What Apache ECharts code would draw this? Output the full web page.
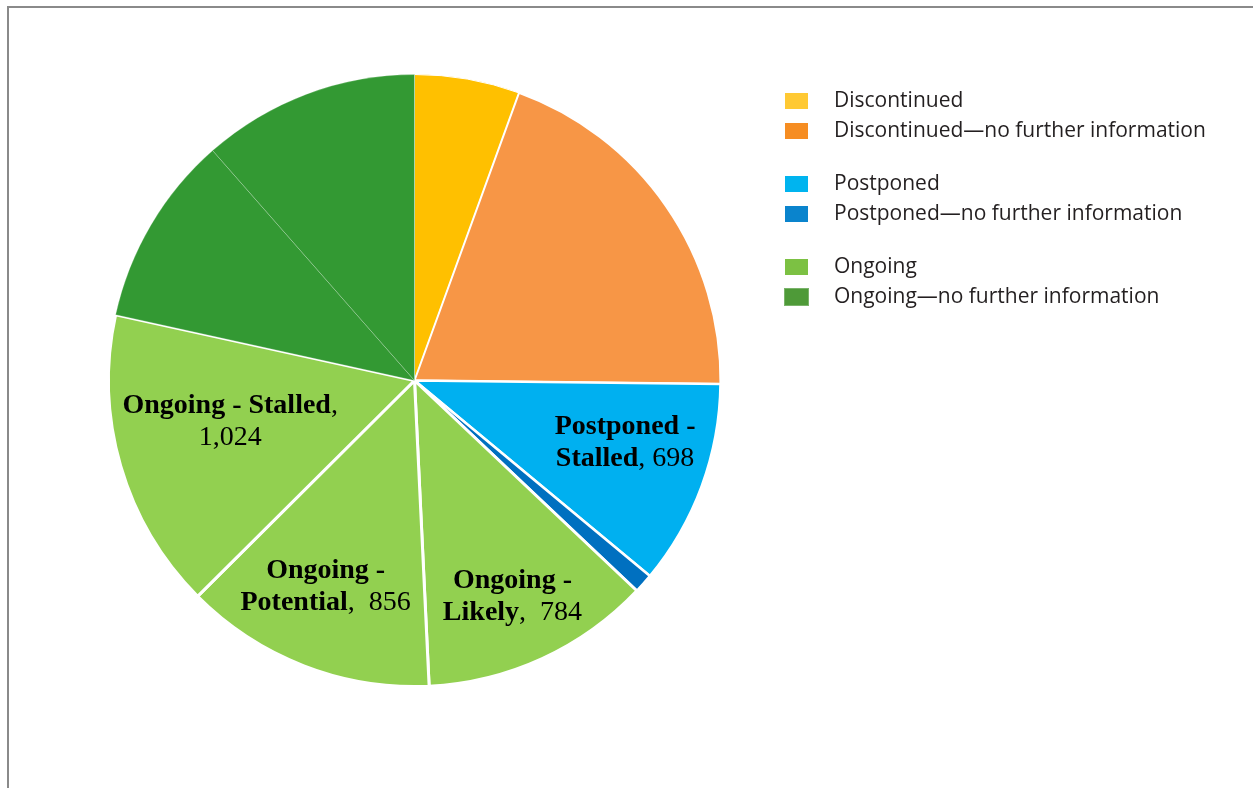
<!DOCTYPE html>
<html>
<head>
<meta charset="utf-8">
<script src="https://cdn.jsdelivr.net/npm/echarts@6/dist/echarts.min.js"></script>
<style>
html,body{margin:0;padding:0;background:#fff;}
#chart{width:1253px;height:788px;}
</style>
</head>
<body>
<div id="chart"></div>
<script>
// ---- data ----
const sliceGroups = ['Discontinued', 'Discontinued—no further information', 'Postponed', 'Postponed—no further information', 'Ongoing', 'Ongoing', 'Ongoing', 'Ongoing—no further information', 'Ongoing—no further information'];
const sliceLabels = ['', '', 'Postponed - Stalled', '', 'Ongoing - Likely', 'Ongoing - Potential', 'Ongoing - Stalled', '', ''];
const sliceValues = [357, 1264, 698, 66, 784, 856, 1024, 649, 738];
const legendGroup1 = ['Discontinued', 'Discontinued—no further information'];
const legendGroup2 = ['Postponed', 'Postponed—no further information'];
const legendGroup3 = ['Ongoing', 'Ongoing—no further information'];

// ---- styles ----
const sliceColors = ['#FFC000', '#F79646', '#00B0F0', '#0070C0', '#92D050', '#92D050', '#92D050', '#339933', '#339933'];
const sliceBorders = [
  {c:'#ffffff', w:1}, {c:'#ffffff', w:2}, {c:'#ffffff', w:2.5}, {c:'#ffffff', w:2.5},
  {c:'#ffffff', w:3}, {c:'#ffffff', w:3}, {c:'#ffffff', w:3},
  {c:'rgba(255,255,255,0.25)', w:0.8}, {c:'rgba(255,255,255,0.25)', w:0.8}
];
// label nudges (pixels) to mimic the original best-fit placement
const labelNudge = [[0,0],[0,0],[6,-13],[0,0],[7,18],[-10,3],[25,-20],[0,0],[0,0]];
const legendColors = {
  'Discontinued': '#FFC933',
  'Discontinued—no further information': '#F68D22',
  'Postponed': '#00B4EF',
  'Postponed—no further information': '#0A84CD',
  'Ongoing': '#7CC143',
  'Ongoing—no further information': '#4E9A38'
};

const chart = echarts.init(document.getElementById('chart'), null, {renderer: 'canvas'});

const mainData = sliceValues.map((v, i) => ({
  name: sliceGroups[i],
  value: v,
  itemStyle: {color: sliceColors[i], borderColor: sliceBorders[i].c, borderWidth: sliceBorders[i].w}
}));

const fmtNum = v => v.toLocaleString('en-US');

const labelData = sliceValues.map((v, i) => ({
  name: sliceGroups[i],
  value: v,
  label: {show: sliceLabels[i] !== ''}
}));

function labelFormatter(p) {
  const name = sliceLabels[p.dataIndex];
  const val = fmtNum(p.value);
  if (name === 'Ongoing - Stalled') {
    return '{b|' + name + '}{n|,}\n{n|' + val + '}';
  }
  const parts = name.split(' - ');
  const gap = name.indexOf('Ongoing') === 0 ? ',  ' : ', ';
  return '{b|' + parts[0] + ' -}\n{b|' + parts[1] + '}{n|' + gap + val + '}';
}

function makeLegend(items, top) {
  return {
    orient: 'vertical',
    left: 778,
    top: top,
    icon: 'rect',
    itemWidth: 25,
    itemHeight: 18,
    itemGap: 8,
    selectedMode: false,
    data: items.map(n => ({name: n, itemStyle: {color: legendColors[n]}})),
    textStyle: {
      fontFamily: 'Open Sans',
      fontSize: 21,
      color: '#231F20',
      lineHeight: 22,
      padding: [0, 0, 0, 20]
    }
  };
}

const option = {
  backgroundColor: '#ffffff',
  animation: false,
  legend: [makeLegend(legendGroup1, 85), makeLegend(legendGroup2, 168), makeLegend(legendGroup3, 251)],
  graphic: [
    {type: 'line', shape: {x1: 7, y1: 7, x2: 1253, y2: 7}, style: {stroke: '#8a8a8a', lineWidth: 2}, silent: true},
    {type: 'line', shape: {x1: 8, y1: 6, x2: 8, y2: 788}, style: {stroke: '#8a8a8a', lineWidth: 2}, silent: true}
  ],
  series: [
    {
      type: 'pie',
      center: [414.5, 380.5],
      radius: [0, 306],
      startAngle: 90,
      clockwise: true,
      silent: true,
      label: {show: false},
      labelLine: {show: false},
      data: mainData
    },
    {
      type: 'pie',
      center: [414.5, 380.5],
      radius: [124, 306],
      startAngle: 90,
      clockwise: true,
      silent: true,
      itemStyle: {color: 'rgba(0,0,0,0)', borderWidth: 0},
      labelLine: {show: false},
      labelLayout: function (params) {
        const n = labelNudge[params.dataIndex] || [0, 0];
        return {dx: n[0], dy: n[1]};
      },
      label: {
        position: 'inside',
        formatter: labelFormatter,
        align: 'center',
        lineHeight: 32,
        rich: {
          b: {fontFamily: 'Liberation Serif', fontWeight: 'bold', fontSize: 28, color: '#000', lineHeight: 32},
          n: {fontFamily: 'Liberation Serif', fontWeight: 'normal', fontSize: 28, color: '#000', lineHeight: 32}
        }
      },
      data: labelData
    }
  ]
};
chart.setOption(option);
</script>
</body>
</html>
